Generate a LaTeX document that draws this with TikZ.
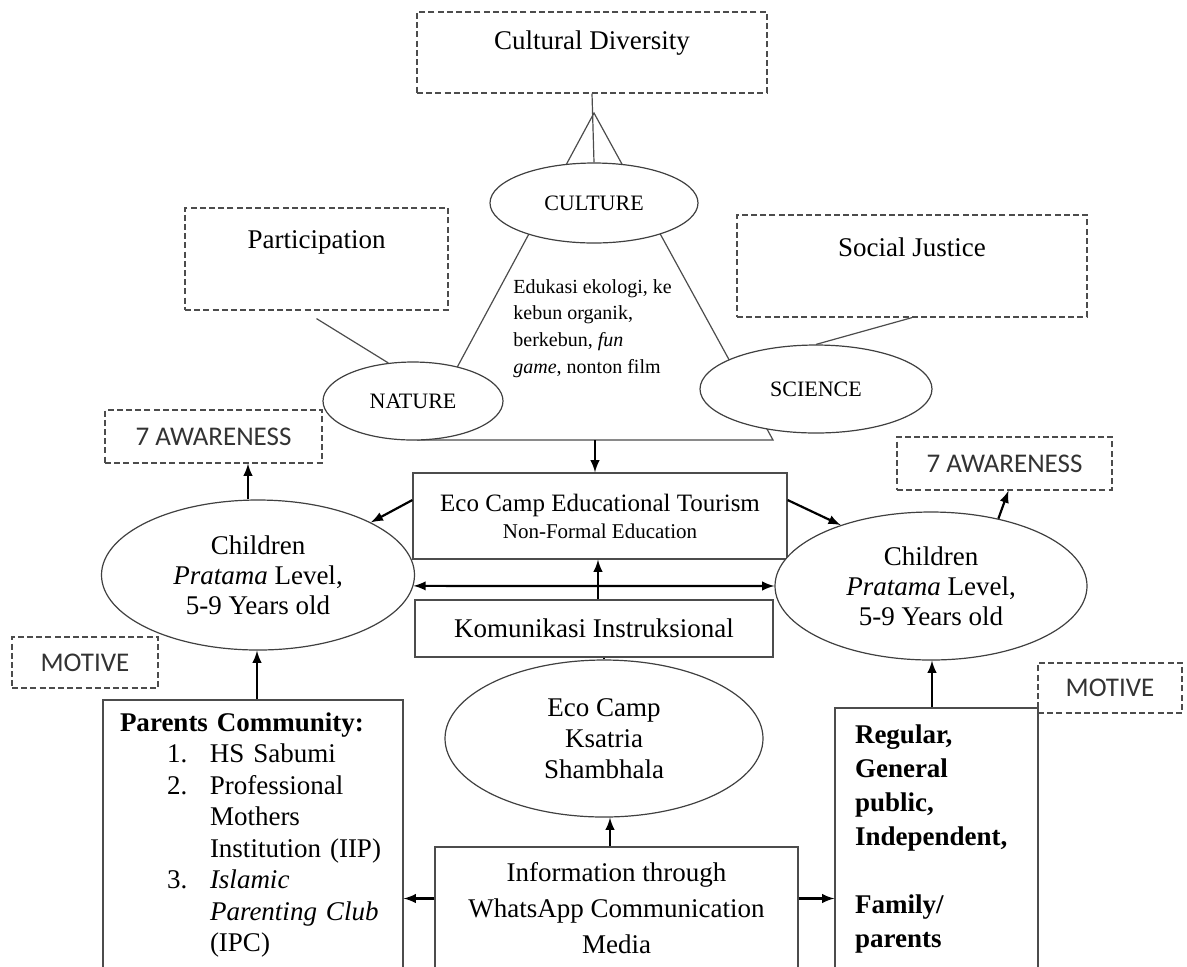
\documentclass[tikz,border=0pt]{standalone}
\usepackage{fontspec}
\setmainfont{Liberation Serif}
\newfontfamily\calibrifont{Carlito}
\usetikzlibrary{shapes}
\usetikzlibrary{positioning}
\usetikzlibrary{arrows}
\usetikzlibrary{math}

\newcommand{\listnum}[2]{\hspace*{23.5pt}\makebox[21.5pt][l]{#1}#2}
\newcommand{\listcont}[1]{\hspace*{45pt}#1}

\tikzset{
  box/.style={draw=black!70, line width=0.6pt, rectangle, inner sep=2pt},
  dbox/.style={draw=black!70, line width=0.6pt, dash pattern=on 3pt off 1.6pt, rectangle, inner sep=2pt},
  oval/.style={draw=black!75, line width=0.6pt, ellipse, fill=white, inner sep=1pt, align=center},
  arr/.style={->, >=latex, line width=1.1pt},
  tag/.style={font=\calibrifont\fontsize{13.5}{15}\selectfont, text=black!80}
}

\begin{document}
\begin{tikzpicture}[x=0.5pt, y=-0.5pt, font=\rmfamily\fontsize{13.5}{15}\selectfont]
  \tikzmath{
    \apx = 594;
    \apy = 113;
    \bl = 418;
    \br = 773;
    \by = 440;
  }
  \useasboundingbox (0,0) rectangle (1187,966);
  \clip (0,0) rectangle (1187,966);

  % triangle behind the three ellipses
  \coordinate (apex) at (\apx,\apy);
  \coordinate (base) at (595,\by);
  \draw[draw=black!70, line width=0.6pt] (apex) -- (\bl,\by) -- (\br,\by) -- cycle;

  \node[dbox, minimum width=175pt, minimum height=40.5pt,
    label={[anchor=north, inner sep=0, yshift=-9.5pt]north:Cultural Diversity}] (cd) at (592,52.5) {};
  \node[dbox, minimum width=131.5pt, minimum height=51pt,
    label={[anchor=north, inner sep=0, yshift=-11.5pt]north:Participation}] (partic) at (316.5,259) {};
  \node[dbox, minimum width=175pt, minimum height=51pt,
    label={[anchor=north, inner sep=0, yshift=-11.5pt]north:Social Justice}] (social) at (912,266) {};

  \node[oval, minimum width=104pt, minimum height=40pt, font=\rmfamily\fontsize{11}{13}\selectfont] (culture) at (594,203) {CULTURE};
  \node[oval, minimum width=90pt, minimum height=39pt, font=\rmfamily\fontsize{11}{13}\selectfont] (nature) at (413,401) {NATURE};
  \node[oval, minimum width=116pt, minimum height=44pt, font=\rmfamily\fontsize{11}{13}\selectfont] (science) at (816,389) {SCIENCE};

  \node[align=left, anchor=north west, inner sep=0, font=\rmfamily\fontsize{10}{13.3}\selectfont] (activity) at (513,279)
    {Edukasi ekologi, ke\\ kebun organik,\\ berkebun, \textit{fun}\\ \textit{game}, nonton film};

  % middle column
  \node[box, minimum width=187pt, minimum height=43pt, align=center, font=\rmfamily\fontsize{12.5}{13.5}\selectfont] (ecet) at (600,516)
    {Eco Camp Educational Tourism\\ {\fontsize{10.5}{13.5}\selectfont Non-Formal Education}};
  \node[box, minimum width=179pt, minimum height=28.5pt] (komu) at (594,628.5) {Komunikasi Instruksional};
  \node[oval, minimum width=159pt, minimum height=78.5pt, font=\rmfamily\fontsize{13.5}{15.5}\selectfont] (ksatria) at (604,738.5)
    {Eco Camp\\ Ksatria\\ Shambhala};
  \node[box, minimum width=181.5pt, minimum height=61.5pt, align=center, font=\rmfamily\fontsize{13.5}{18}\selectfont] (info) at (616.5,908.5)
    {Information through\\ WhatsApp Communication\\ Media};

  % children
  \node[oval, minimum width=156.5pt, minimum height=75pt] (childL) at (258,575) {Children\\ \textit{Pratama} Level,\\ 5-9 Years old};
  \node[oval, minimum width=156pt, minimum height=74pt] (childR) at (931,586) {Children\\ \textit{Pratama} Level,\\ 5-9 Years old};

  \node[dbox, tag, minimum width=108.5pt, minimum height=26.5pt] (awL) at (213.5,436.5) {7 AWARENESS};
  \node[dbox, tag, minimum width=107.5pt, minimum height=26.5pt] (awR) at (1004.5,463.5) {7 AWARENESS};
  \node[dbox, tag, minimum width=73pt, minimum height=25.5pt] (motL) at (85,662.5) {MOTIVE};
  \node[dbox, tag, minimum width=72pt, minimum height=25pt] (motR) at (1110,688) {MOTIVE};

  % participants
  \node[box, minimum width=150pt, minimum height=135pt, text width=133pt, inner xsep=8.5pt, align=left,
    font=\rmfamily\fontsize{13.5}{15.75}\selectfont] (parents) at (253,835)
    {\textbf{Parents Community:}\\
     \listnum{1.}{HS Sabumi}\\
     \listnum{2.}{Professional}\\
     \listcont{Mothers}\\
     \listcont{Institution (IIP)}\\
     \listnum{3.}{\textit{Islamic}}\\
     \listcont{\textit{Parenting Club}}\\
     \listcont{(IPC)}};
  \node[box, minimum width=101.5pt, minimum height=131pt, text width=81.5pt, inner xsep=10pt, align=left,
    font=\rmfamily\bfseries\fontsize{13.5}{17}\selectfont] (regular) at (936.5,839)
    {Regular,\\ General\\ public,\\ Independent,\\[17pt] Family/\\ parents};

  % connectors
  \draw[draw=black!70, line width=0.6pt] (cd.south) -- (culture.north);
  \draw[draw=black!70, line width=0.6pt] ([yshift=-4pt]partic.south) -- (nature.123);
  \draw[draw=black!70, line width=0.6pt] (social.south) -- (science.north);

  \draw[arr] (base) -- (base |- ecet.north);
  \draw[arr] ([yshift=8pt]ecet.west) -- (childL.25);
  \draw[arr] ([yshift=8pt]ecet.east) -- (childR.146);
  \draw[arr, <->] (childL.-4) -- (childR.180);
  \draw[arr] (komu.north -| 598,0) -- (598,0 |- ecet.south);
  \draw[line width=0.8pt] (ksatria.north) -- (ksatria.north |- komu.south);
  \draw[arr] (info.north -| 610,0) -- (610,0 |- ksatria.south);

  \draw[arr] ([yshift=5pt]info.west) -- ([yshift=5pt]info.west -| parents.east);
  \draw[arr] ([yshift=5pt]info.east) -- ([yshift=5pt]info.east -| regular.west);

  \draw[arr] (parents.north -| 257,0) -- (257,0 |- childL.south);
  \draw[arr] (regular.north -| 932,0) -- (932,0 |- childR.south);
  \draw[arr] (childL.north -| 248,0) -- (248,0 |- awL.south);
  \draw[arr] (childR.45) -- ([xshift=2pt]awR.south);
\end{tikzpicture}
\end{document}
